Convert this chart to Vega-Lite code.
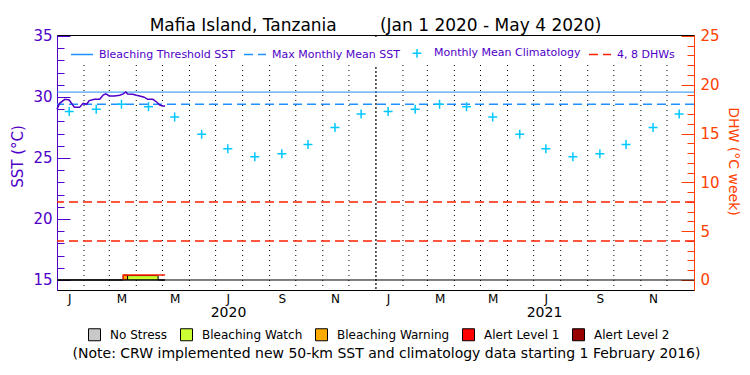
{
  "$schema": "https://vega.github.io/schema/vega-lite/v6.json",
  "width": 637,
  "height": 255,
  "autosize": {"type": "none"},
  "padding": {"left": 57, "top": 35, "right": 56, "bottom": 85},
  "background": "white",
  "config": {
    "font": "DejaVu Sans",
    "view": {"stroke": "black", "strokeWidth": 1},
    "axis": {"grid": false, "labelFont": "DejaVu Sans", "titleFont": "DejaVu Sans", "titleFontWeight": "normal"},
    "legend": {"labelFont": "DejaVu Sans"}
  },
  "title": {
    "text": "Mafia Island, Tanzania\u00a0\u00a0\u00a0\u00a0\u00a0\u00a0\u00a0\u00a0(Jan 1 2020 - May 4 2020)",
    "anchor": "middle", "fontSize": 17, "fontWeight": "normal",
    "font": "DejaVu Sans", "color": "black", "offset": -6
  },
  "datasets": {
    "months": [
      {"date": "2020-02-01"}, {"date": "2020-03-01"}, {"date": "2020-04-01"}, {"date": "2020-05-01"},
      {"date": "2020-06-01"}, {"date": "2020-07-01"}, {"date": "2020-08-01"}, {"date": "2020-09-01"},
      {"date": "2020-10-01"}, {"date": "2020-11-01"}, {"date": "2020-12-01"},
      {"date": "2021-02-01"}, {"date": "2021-03-01"}, {"date": "2021-04-01"}, {"date": "2021-05-01"},
      {"date": "2021-06-01"}, {"date": "2021-07-01"}, {"date": "2021-08-01"}, {"date": "2021-09-01"},
      {"date": "2021-10-01"}, {"date": "2021-11-01"}, {"date": "2021-12-01"}
    ],
    "yearline": [{"date": "2021-01-01"}],
    "climatology": [
      {"series": "Monthly Mean Climatology", "date": "2020-01-15", "sst": 28.8},
      {"series": "Monthly Mean Climatology", "date": "2020-02-15", "sst": 29.0},
      {"series": "Monthly Mean Climatology", "date": "2020-03-15", "sst": 29.4},
      {"series": "Monthly Mean Climatology", "date": "2020-04-15", "sst": 29.2},
      {"series": "Monthly Mean Climatology", "date": "2020-05-15", "sst": 28.35},
      {"series": "Monthly Mean Climatology", "date": "2020-06-15", "sst": 26.95},
      {"series": "Monthly Mean Climatology", "date": "2020-07-15", "sst": 25.75},
      {"series": "Monthly Mean Climatology", "date": "2020-08-15", "sst": 25.1},
      {"series": "Monthly Mean Climatology", "date": "2020-09-15", "sst": 25.35},
      {"series": "Monthly Mean Climatology", "date": "2020-10-15", "sst": 26.1},
      {"series": "Monthly Mean Climatology", "date": "2020-11-15", "sst": 27.5},
      {"series": "Monthly Mean Climatology", "date": "2020-12-15", "sst": 28.6},
      {"series": "Monthly Mean Climatology", "date": "2021-01-15", "sst": 28.8},
      {"series": "Monthly Mean Climatology", "date": "2021-02-15", "sst": 29.0},
      {"series": "Monthly Mean Climatology", "date": "2021-03-15", "sst": 29.4},
      {"series": "Monthly Mean Climatology", "date": "2021-04-15", "sst": 29.2},
      {"series": "Monthly Mean Climatology", "date": "2021-05-15", "sst": 28.35},
      {"series": "Monthly Mean Climatology", "date": "2021-06-15", "sst": 26.95},
      {"series": "Monthly Mean Climatology", "date": "2021-07-15", "sst": 25.75},
      {"series": "Monthly Mean Climatology", "date": "2021-08-15", "sst": 25.1},
      {"series": "Monthly Mean Climatology", "date": "2021-09-15", "sst": 25.35},
      {"series": "Monthly Mean Climatology", "date": "2021-10-15", "sst": 26.1},
      {"series": "Monthly Mean Climatology", "date": "2021-11-15", "sst": 27.5},
      {"series": "Monthly Mean Climatology", "date": "2021-12-15", "sst": 28.6}
    ],
    "sst": [
      {"date": "2020-01-01", "sst": 28.99}, {"date": "2020-01-04", "sst": 29.48},
      {"date": "2020-01-10", "sst": 29.81}, {"date": "2020-01-15", "sst": 29.75},
      {"date": "2020-01-19", "sst": 29.34}, {"date": "2020-01-21", "sst": 29.16},
      {"date": "2020-01-27", "sst": 29.16}, {"date": "2020-01-31", "sst": 29.48},
      {"date": "2020-02-04", "sst": 29.4}, {"date": "2020-02-07", "sst": 29.7},
      {"date": "2020-02-13", "sst": 29.81}, {"date": "2020-02-19", "sst": 29.81},
      {"date": "2020-02-23", "sst": 30.16}, {"date": "2020-02-26", "sst": 30.25},
      {"date": "2020-03-01", "sst": 30.08}, {"date": "2020-03-07", "sst": 30.08},
      {"date": "2020-03-13", "sst": 30.14}, {"date": "2020-03-17", "sst": 30.25},
      {"date": "2020-03-20", "sst": 30.41}, {"date": "2020-03-22", "sst": 30.25},
      {"date": "2020-03-28", "sst": 30.22}, {"date": "2020-04-01", "sst": 30.14},
      {"date": "2020-04-05", "sst": 30.08}, {"date": "2020-04-10", "sst": 29.98},
      {"date": "2020-04-14", "sst": 29.81}, {"date": "2020-04-20", "sst": 29.81},
      {"date": "2020-04-24", "sst": 29.61}, {"date": "2020-04-28", "sst": 29.34},
      {"date": "2020-05-01", "sst": 29.26}, {"date": "2020-05-04", "sst": 29.26}
    ],
    "stress": [
      {"seg": 1, "date": "2020-01-01", "level": "No Stress", "dhw": 0},
      {"seg": 1, "date": "2020-01-06", "level": "No Stress", "dhw": 0},
      {"seg": 2, "date": "2020-01-06", "level": "Bleaching Watch", "dhw": 0},
      {"seg": 2, "date": "2020-01-20", "level": "Bleaching Watch", "dhw": 0},
      {"seg": 3, "date": "2020-01-20", "level": "No Stress", "dhw": 0},
      {"seg": 3, "date": "2020-01-26", "level": "No Stress", "dhw": 0},
      {"seg": 4, "date": "2020-01-26", "level": "Bleaching Watch", "dhw": 0},
      {"seg": 4, "date": "2020-01-29", "level": "Bleaching Watch", "dhw": 0},
      {"seg": 5, "date": "2020-01-29", "level": "No Stress", "dhw": 0},
      {"seg": 5, "date": "2020-02-02", "level": "No Stress", "dhw": 0},
      {"seg": 6, "date": "2020-02-02", "level": "Bleaching Watch", "dhw": 0},
      {"seg": 6, "date": "2020-03-17", "level": "Bleaching Watch", "dhw": 0},
      {"seg": 7, "date": "2020-03-17", "level": "Bleaching Warning", "dhw": 0.5},
      {"seg": 7, "date": "2020-03-22", "level": "Bleaching Warning", "dhw": 0.5},
      {"seg": 8, "date": "2020-03-22", "level": "Bleaching Watch", "dhw": 0.45},
      {"seg": 8, "date": "2020-04-26", "level": "Bleaching Watch", "dhw": 0.45},
      {"seg": 9, "date": "2020-04-26", "level": "No Stress", "dhw": 0},
      {"seg": 9, "date": "2020-05-04", "level": "No Stress", "dhw": 0}
    ],
    "dhw": [
      {"date": "2020-03-17", "dhw": 0},
      {"date": "2020-03-17", "dhw": 0.5},
      {"date": "2020-05-04", "dhw": 0.5}
    ]
  },
  "layer": [
    {
      "data": {"name": "months"},
      "mark": {"type": "rule", "color": "black", "strokeDash": [1, 4], "strokeWidth": 1},
      "encoding": {
        "x": {"field": "date", "type": "temporal",
          "scale": {"domain": [1577836800000, 1640995200000]},
          "axis": {"orient": "bottom", "ticks": false, "domain": false, "grid": false,
            "labelFontSize": 12, "labelPadding": 3, "labelColor": "black", "labelFlush": false, "labelOverlap": false,
            "labelExpr": "substring(utcFormat(datum.value, '%b'), 0, 1)",
            "values": [1579046400000, 1581724800000, 1584230400000, 1586908800000, 1589500800000, 1592179200000,
              1594771200000, 1597449600000, 1600128000000, 1602720000000, 1605398400000, 1607990400000,
              1610668800000, 1613347200000, 1615766400000, 1618444800000, 1621036800000, 1623715200000,
              1626307200000, 1628985600000, 1631664000000, 1634256000000, 1636934400000, 1639526400000],
            "title": ["2020\u00a0\u00a0\u00a0\u00a0\u00a0\u00a0\u00a0\u00a0\u00a0\u00a0\u00a0\u00a0\u00a0\u00a0\u00a0\u00a0\u00a0\u00a0\u00a0\u00a0\u00a0\u00a0\u00a0\u00a0\u00a0\u00a0\u00a0\u00a0\u00a0\u00a0\u00a0\u00a0\u00a0\u00a0\u00a0\u00a0\u00a0\u00a0\u00a0\u00a0\u00a0\u00a0\u00a0\u00a0\u00a0\u00a0\u00a0\u00a0\u00a0\u00a0\u00a0\u00a0\u00a0\u00a0\u00a0\u00a0\u00a0\u00a0\u00a0\u00a0\u00a0\u00a0\u00a02021\u00a0\u00a0\u00a0\u00a0\u00a0",
              "(Note: CRW implemented new 50-km SST and climatology data starting 1 February 2016)"],
            "titleFontSize": 14, "titleColor": "black", "titleX": 329, "titleY": 15, "titleLineHeight": 41,
            "titleAlign": "center", "titleBaseline": "top"}}
      }
    },
    {
      "data": {"name": "yearline"},
      "mark": {"type": "rule", "color": "black", "strokeDash": [2, 2], "strokeWidth": 1.2},
      "encoding": {
        "x": {"field": "date", "type": "temporal",
          "scale": {"domain": [1577836800000, 1640995200000]}}
      }
    },
    {
      "data": {"values": [{"series": "Bleaching Threshold SST", "sst": 30.4}]},
      "mark": {"type": "rule", "strokeWidth": 1},
      "encoding": {
        "y": {"field": "sst", "type": "quantitative",
          "scale": {"domain": [14.18, 35.08], "nice": false, "zero": false},
          "axis": {"orient": "left", "values": [15, 20, 25, 30, 35], "labels": false, "domain": false, "grid": false,
            "tickSize": -13, "tickColor": "#5000c8", "title": null}},
        "stroke": {"field": "series", "type": "nominal",
          "scale": {"domain": ["Bleaching Threshold SST", "Max Monthly Mean SST", "Monthly Mean Climatology", "4, 8 DHWs"],
            "range": ["#1e90ff", "#1e90ff", "#00c8ff", "#ff2000"]},
          "legend": {"orient": "none", "legendX": 9, "legendY": 2, "direction": "horizontal", "columns": 4, "title": null,
            "padding": 4, "fillColor": "white", "symbolSize": 484,
            "labelFontSize": 11, "labelOffset": 5, "columnPadding": 5, "symbolStrokeWidth": 1.5, "labelColor": "#5000c8"}},
        "strokeDash": {"field": "series", "type": "nominal",
          "scale": {"domain": ["Bleaching Threshold SST", "Max Monthly Mean SST", "Monthly Mean Climatology", "4, 8 DHWs"],
            "range": [[1, 0], [9, 5], [1, 0], [9, 5]]},
          "legend": {"orient": "none", "legendX": 9, "legendY": 2, "direction": "horizontal", "columns": 4, "title": null,
            "padding": 4, "fillColor": "white", "symbolSize": 484,
            "labelFontSize": 11, "labelOffset": 5, "columnPadding": 5, "symbolStrokeWidth": 1.5, "labelColor": "#5000c8"}}
      }
    },
    {
      "data": {"values": [{"series": "Max Monthly Mean SST", "sst": 29.4}]},
      "mark": {"type": "rule", "strokeWidth": 1.5},
      "encoding": {
        "y": {"field": "sst", "type": "quantitative",
          "scale": {"domain": [14.18, 35.08], "nice": false, "zero": false},
          "axis": {"orient": "left", "values": [15, 20, 25, 30, 35], "ticks": false, "labelPadding": 5,
            "labelFontSize": 15, "labelColor": "#5000c8", "domainColor": "#5000c8", "domainWidth": 1,
            "labelFlush": false, "grid": false,
            "title": "SST (°C)", "titleColor": "#5000c8", "titleFontSize": 15, "titleX": -40, "titleY": 121,
            "titleAngle": -90, "titleAlign": "center", "titleBaseline": "middle"}},
        "stroke": {"field": "series", "type": "nominal",
          "scale": {"domain": ["Bleaching Threshold SST", "Max Monthly Mean SST", "Monthly Mean Climatology", "4, 8 DHWs"],
            "range": ["#1e90ff", "#1e90ff", "#00c8ff", "#ff2000"]}, "legend": null},
        "strokeDash": {"field": "series", "type": "nominal",
          "scale": {"domain": ["Bleaching Threshold SST", "Max Monthly Mean SST", "Monthly Mean Climatology", "4, 8 DHWs"],
            "range": [[1, 0], [9, 5], [1, 0], [9, 5]]}, "legend": null}
      }
    },
    {
      "data": {"name": "climatology"},
      "mark": {"type": "point", "filled": false, "strokeWidth": 1.5, "opacity": 1, "size": 506},
      "encoding": {
        "x": {"field": "date", "type": "temporal",
          "scale": {"domain": [1577836800000, 1640995200000]}},
        "y": {"field": "sst", "type": "quantitative",
          "scale": {"domain": [14.18, 35.08], "nice": false, "zero": false},
          "axis": {"orient": "left", "values": [15, 16, 17, 18, 19, 20, 21, 22, 23, 24, 25, 26, 27, 28, 29, 30, 31, 32, 33, 34, 35],
            "labels": false, "domain": false, "grid": false, "tickSize": -7, "tickColor": "#5000c8", "title": null}},
        "stroke": {"field": "series", "type": "nominal",
          "scale": {"domain": ["Bleaching Threshold SST", "Max Monthly Mean SST", "Monthly Mean Climatology", "4, 8 DHWs"],
            "range": ["#1e90ff", "#1e90ff", "#00c8ff", "#ff2000"]}, "legend": null},
        "shape": {"field": "series", "type": "nominal",
          "scale": {"domain": ["Bleaching Threshold SST", "Max Monthly Mean SST", "Monthly Mean Climatology", "4, 8 DHWs"],
            "range": ["stroke", "stroke", "M-0.4,0L0.4,0M0,-0.4L0,0.4", "stroke"]},
          "legend": {"orient": "none", "legendX": 9, "legendY": 2, "direction": "horizontal", "columns": 4, "title": null,
            "padding": 4, "fillColor": "white", "symbolSize": 484,
            "labelFontSize": 11, "labelOffset": 5, "columnPadding": 5, "symbolStrokeWidth": 1.5, "labelColor": "#5000c8"}}
      }
    },
    {
      "data": {"name": "sst"},
      "mark": {"type": "line", "color": "#5000c8", "strokeWidth": 1.5},
      "encoding": {
        "x": {"field": "date", "type": "temporal",
          "scale": {"domain": [1577836800000, 1640995200000]}},
        "y": {"field": "sst", "type": "quantitative",
          "scale": {"domain": [14.18, 35.08], "nice": false, "zero": false}, "axis": null}
      }
    },
    {
      "data": {"name": "stress"},
      "mark": {"type": "area", "stroke": "black", "strokeWidth": 1, "interpolate": "linear", "opacity": 1},
      "encoding": {
        "x": {"field": "date", "type": "temporal",
          "scale": {"domain": [1577836800000, 1640995200000]}},
        "y": {"field": "dhw", "type": "quantitative", "stack": null,
          "scale": {"domain": {"expr": "[-1.025, 25.1]"}, "nice": false, "zero": false},
          "axis": {"orient": "right", "values": [0, 5, 10, 15, 20, 25], "ticks": false, "labelPadding": 6,
            "labelFontSize": 15, "labelColor": "#ff4000", "domainColor": "#ff4000", "domainWidth": 1,
            "labelFlush": false, "grid": false,
            "title": "DHW (°C week)", "titleColor": "#ff4000", "titleFontSize": 14, "titleX": 38, "titleY": 126,
            "titleAngle": 90, "titleAlign": "center", "titleBaseline": "middle"}},
        "detail": {"field": "seg", "type": "nominal"},
        "fill": {"field": "level", "type": "nominal",
          "scale": {"domain": ["No Stress", "Bleaching Watch", "Bleaching Warning", "Alert Level 1", "Alert Level 2"],
            "range": ["#c8c8c8", "#ccff33", "#ffaa00", "#ff0000", "#990000"]},
          "legend": {"orient": "none", "legendX": 31, "legendY": 293, "direction": "horizontal", "columns": 5, "title": null,
            "symbolType": "square", "symbolSize": 144, "symbolStrokeColor": "black", "symbolStrokeWidth": 1,
            "symbolOpacity": 1, "labelFontSize": 12, "labelOffset": 9, "columnPadding": 10, "labelColor": "black"}}
      }
    },
    {
      "data": {"name": "dhw"},
      "mark": {"type": "line", "color": "#ff2000", "strokeWidth": 1.5},
      "encoding": {
        "x": {"field": "date", "type": "temporal",
          "scale": {"domain": [1577836800000, 1640995200000]}},
        "y": {"field": "dhw", "type": "quantitative",
          "scale": {"domain": [-1.025, 25.1], "nice": false, "zero": false},
          "axis": {"orient": "right", "values": [0, 5, 10, 15, 20, 25], "labels": false, "domain": false, "grid": false,
            "tickSize": -13, "tickColor": "#ff4000", "title": null}}
      }
    },
    {
      "data": {"values": [{"dhw": 0}]},
      "mark": {"type": "rule", "color": "black", "strokeWidth": 1},
      "encoding": {
        "y": {"field": "dhw", "type": "quantitative",
          "scale": {"domain": [-1.025, 25.1], "nice": false, "zero": false}, "axis": null}
      }
    },
    {
      "data": {"values": [{"series": "4, 8 DHWs", "dhw": 4}, {"series": "4, 8 DHWs", "dhw": 8}]},
      "mark": {"type": "rule", "strokeWidth": 1.5},
      "encoding": {
        "y": {"field": "dhw", "type": "quantitative",
          "scale": {"domain": [-1.025, 25.1], "nice": false, "zero": false},
          "axis": {"orient": "right", "values": [0, 1, 2, 3, 4, 5, 6, 7, 8, 9, 10, 11, 12, 13, 14, 15, 16, 17, 18, 19, 20, 21, 22, 23, 24, 25],
            "labels": false, "domain": false, "grid": false, "tickSize": -7, "tickColor": "#ff4000", "title": null}},
        "stroke": {"field": "series", "type": "nominal",
          "scale": {"domain": ["Bleaching Threshold SST", "Max Monthly Mean SST", "Monthly Mean Climatology", "4, 8 DHWs"],
            "range": ["#1e90ff", "#1e90ff", "#00c8ff", "#ff2000"]}, "legend": null},
        "strokeDash": {"field": "series", "type": "nominal",
          "scale": {"domain": ["Bleaching Threshold SST", "Max Monthly Mean SST", "Monthly Mean Climatology", "4, 8 DHWs"],
            "range": [[1, 0], [9, 5], [1, 0], [9, 5]]}, "legend": null}
      }
    }
  ],
  "resolve": {"scale": {"y": "independent"}}
}
